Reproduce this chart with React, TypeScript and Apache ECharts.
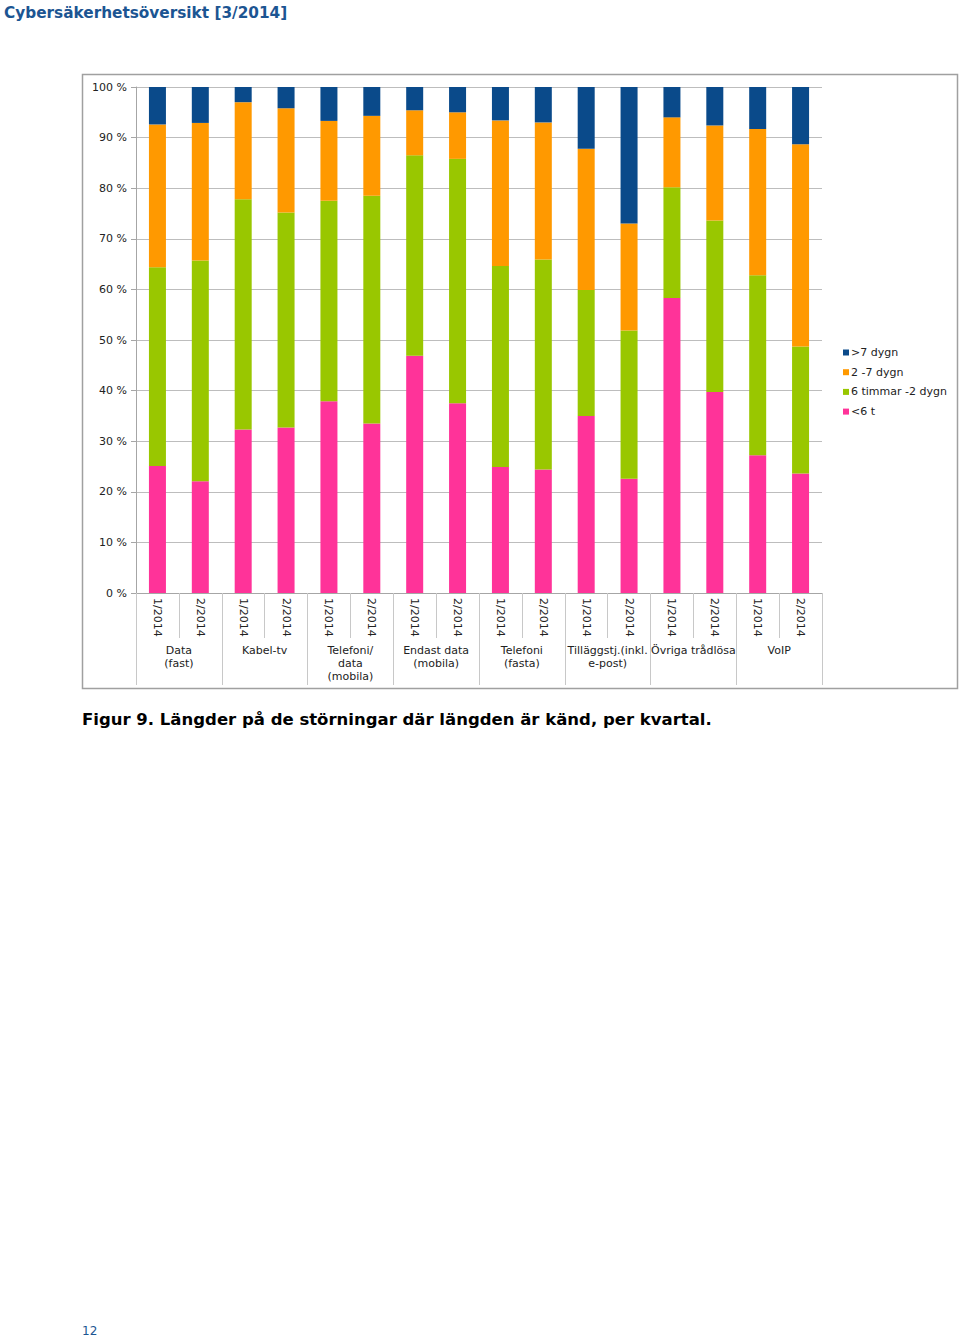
import React, { useEffect, useRef } from "react";
import * as echarts from "echarts";

const quarters = [
  "1/2014", "2/2014", "1/2014", "2/2014", "1/2014", "2/2014", "1/2014", "2/2014",
  "1/2014", "2/2014", "1/2014", "2/2014", "1/2014", "2/2014", "1/2014", "2/2014",
];
const groups = [
  "Data\n(fast)",
  "Kabel-tv",
  "Telefoni/\ndata\n(mobila)",
  "Endast data\n(mobila)",
  "Telefoni\n(fasta)",
  "Tilläggstj.(inkl.\ne-post)",
  "Övriga trådlösa",
  "VoIP",
];
const under6h = [25.1, 22.1, 32.3, 32.7, 37.9, 33.5, 46.9, 37.5, 24.9, 24.4, 35.0, 22.6, 58.3, 39.7, 27.2, 23.6];
const h6to2d = [39.3, 43.6, 45.5, 42.5, 39.6, 45.0, 39.6, 48.3, 39.7, 41.5, 24.9, 29.3, 21.9, 33.9, 35.6, 25.1];
const d2to7 = [28.2, 27.2, 19.2, 20.6, 15.8, 15.8, 8.9, 9.2, 28.8, 27.1, 27.9, 21.1, 13.8, 18.8, 28.9, 40.0];
const over7d = [7.4, 7.1, 3.0, 4.2, 6.7, 5.7, 4.6, 5.0, 6.6, 7.0, 12.2, 27.0, 6.0, 7.6, 8.3, 11.3];

const seriesNames = ["<6 t", "6 timmar -2 dygn", "2 -7 dygn", ">7 dygn"];
const colors = ["#FF3399", "#99C700", "#FF9900", "#0A4A8A"];

export default function App() {
  const ref = useRef<HTMLDivElement>(null);
  useEffect(() => {
    document.body.style.margin = "0";
    const chart = echarts.init(ref.current!, null, { renderer: "svg" });
    const font = "DejaVu Sans, Verdana, sans-serif";
    const values = [under6h, h6to2d, d2to7, over7d];
    chart.setOption({
      animation: false,
      textStyle: { fontFamily: font },
      title: {
        text: "Cybersäkerhetsöversikt [3/2014]",
        left: 4,
        top: 5,
        padding: 0,
        textStyle: { fontSize: 15.3, fontWeight: "bold", color: "#1C5592", fontFamily: font },
      },
      legend: {
        orient: "vertical",
        left: 838,
        top: 342,
        icon: "rect",
        itemWidth: 6,
        itemHeight: 6,
        itemGap: 8.7,
        data: [">7 dygn", "2 -7 dygn", "6 timmar -2 dygn", "<6 t"],
        textStyle: { fontSize: 11, color: "#222", fontFamily: font, padding: [0, 0, 0, -3] },
      },
      grid: { left: 136, right: 138, top: 87, bottom: 745, containLabel: false },
      xAxis: [
        {
          type: "category",
          data: quarters,
          position: "bottom",
          axisLine: { lineStyle: { color: "#a6a6a6", width: 1 } },
          axisTick: { show: true, length: 45, lineStyle: { color: "#c8c8c8" } },
          axisLabel: { rotate: -90, margin: 5, interval: 0, fontSize: 11, color: "#222", fontFamily: font },
        },
        {
          type: "category",
          data: groups,
          position: "bottom",
          axisLine: { show: false },
          axisTick: { show: true, length: 92, lineStyle: { color: "#c8c8c8" } },
          axisLabel: { margin: 51, interval: 0, fontSize: 11, lineHeight: 13, color: "#222", fontFamily: font, verticalAlign: "top" },
        },
      ],
      yAxis: {
        type: "value",
        min: 0,
        max: 100,
        interval: 10,
        axisLine: { show: true, lineStyle: { color: "#a6a6a6" } },
        axisTick: { show: true, length: 5, lineStyle: { color: "#a6a6a6" } },
        splitLine: { lineStyle: { color: "#bdbdbd" } },
        axisLabel: { formatter: "{value} %", fontSize: 11, color: "#222", margin: 9, fontFamily: font },
      },
      series: seriesNames.map((name, i) => ({
        name,
        type: "bar",
        stack: "total",
        barWidth: 17,
        itemStyle: { color: colors[i] },
        data: values[i],
      })),
      graphic: [
        {
          type: "rect",
          shape: { x: 82.5, y: 74.5, width: 875, height: 614 },
          style: { fill: "none", stroke: "#a0a0a0", lineWidth: 1.5 },
          z: -1,
        },
        {
          type: "text",
          x: 82,
          y: 711,
          style: {
            text: "Figur 9. Längder på de störningar där längden är känd, per kvartal.",
            fontSize: 16.5,
            fontWeight: "bold",
            fill: "#000",
            fontFamily: font,
          },
        },
        {
          type: "text",
          x: 82,
          y: 1325,
          style: { text: "12", fontSize: 12, fill: "#1C5592", fontFamily: font },
        },
      ],
    });
    return () => chart.dispose();
  }, []);
  return <div ref={ref} style={{ width: 960, height: 1338 }} />;
}
